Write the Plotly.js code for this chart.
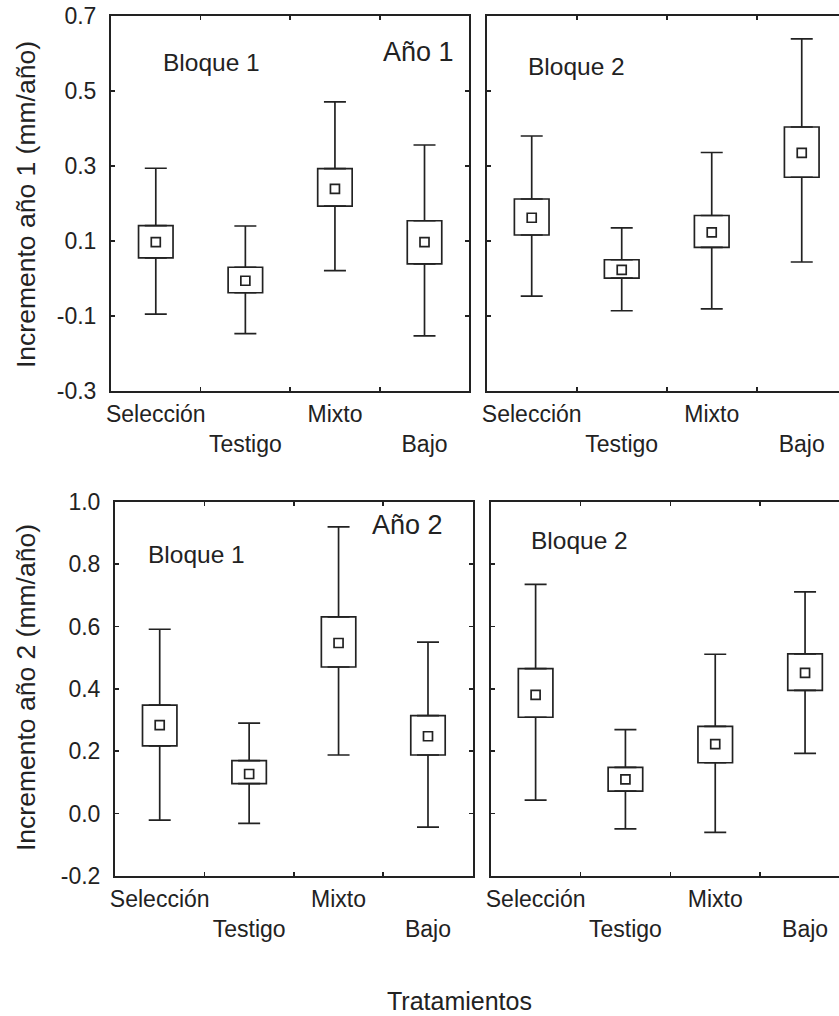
<!DOCTYPE html>
<html>
<head>
<meta charset="utf-8">
<script src="https://cdn.plot.ly/plotly-3.0.1.min.js"></script>
<style>html,body{margin:0;padding:0;background:#fff;}#chart{width:839px;height:1016px;}</style>
</head>
<body>
<div id="chart"></div>
<script>
// ---- data ----
var categories = ["Selección", "Testigo", "Mixto", "Bajo"];
var tickLabels = ["Selección", "<br>Testigo", "Mixto", "<br>Bajo"];

var yTickVals1 = [-0.3, -0.1, 0.1, 0.3, 0.5, 0.7];
var yTickText1 = ["-0.3", "-0.1", "0.1", "0.3", "0.5", "0.7"];
var yTickVals2 = [-0.2, 0.0, 0.2, 0.4, 0.6, 0.8, 1.0];
var yTickText2 = ["-0.2", "0.0", "0.2", "0.4", "0.6", "0.8", "1.0"];

// Año 1, Bloque 1
var a1b1Mean  = [0.097, -0.006, 0.239, 0.097];
var a1b1BoxHi = [0.141, 0.030, 0.293, 0.154];
var a1b1BoxLo = [0.055, -0.038, 0.193, 0.039];
var a1b1Hi    = [0.294, 0.140, 0.471, 0.356];
var a1b1Lo    = [-0.095, -0.147, 0.021, -0.153];

// Año 1, Bloque 2
var a1b2Mean  = [0.162, 0.023, 0.123, 0.335];
var a1b2BoxHi = [0.212, 0.050, 0.168, 0.404];
var a1b2BoxLo = [0.116, 0.001, 0.083, 0.270];
var a1b2Hi    = [0.380, 0.135, 0.336, 0.639];
var a1b2Lo    = [-0.047, -0.086, -0.081, 0.044];

// Año 2, Bloque 1
var a2b1Mean  = [0.284, 0.127, 0.547, 0.248];
var a2b1BoxHi = [0.348, 0.170, 0.631, 0.314];
var a2b1BoxLo = [0.217, 0.096, 0.470, 0.188];
var a2b1Hi    = [0.591, 0.290, 0.919, 0.550];
var a2b1Lo    = [-0.021, -0.031, 0.188, -0.043];

// Año 2, Bloque 2
var a2b2Mean  = [0.381, 0.110, 0.223, 0.451];
var a2b2BoxHi = [0.465, 0.148, 0.280, 0.512];
var a2b2BoxLo = [0.309, 0.072, 0.163, 0.395];
var a2b2Hi    = [0.735, 0.269, 0.511, 0.711];
var a2b2Lo    = [0.043, -0.049, -0.060, 0.193];

// ---- styling ----
var INK = "#222222";
var FONT = "Liberation Sans, Arial, Helvetica, sans-serif";
var W = 839, H = 1016;

function panelTraces(mean, boxHi, boxLo, hi, lo, xa, ya) {
  var boxH = boxHi.map(function (v, i) { return v - boxLo[i]; });
  var upErr = hi.map(function (v, i) { return v - boxHi[i]; });
  var loErr = boxLo.map(function (v, i) { return v - lo[i]; });
  var zeros = categories.map(function () { return 0; });
  return [
    { type: "bar", x: categories, y: boxH, base: boxLo, width: 0.385,
      marker: { color: "#ffffff", line: { color: INK, width: 1.7 } },
      xaxis: xa, yaxis: ya, hoverinfo: "skip", showlegend: false },
    { type: "scatter", mode: "markers", x: categories.concat(categories), y: boxHi.concat(boxLo),
      marker: { size: 1, color: "rgba(0,0,0,0)" },
      error_y: { type: "data", symmetric: false, array: upErr.concat(zeros), arrayminus: zeros.concat(loErr),
                 color: INK, thickness: 1.7, width: 11 },
      xaxis: xa, yaxis: ya, hoverinfo: "skip", showlegend: false },
    { type: "scatter", mode: "markers", x: categories, y: mean,
      marker: { symbol: "square-open", size: 9, color: INK, line: { width: 1.7, color: INK } },
      xaxis: xa, yaxis: ya, showlegend: false }
  ];
}

var data = []
  .concat(panelTraces(a1b1Mean, a1b1BoxHi, a1b1BoxLo, a1b1Hi, a1b1Lo, "x", "y"))
  .concat(panelTraces(a1b2Mean, a1b2BoxHi, a1b2BoxLo, a1b2Hi, a1b2Lo, "x2", "y2"))
  .concat(panelTraces(a2b1Mean, a2b1BoxHi, a2b1BoxLo, a2b1Hi, a2b1Lo, "x3", "y3"))
  .concat(panelTraces(a2b2Mean, a2b2BoxHi, a2b2BoxLo, a2b2Hi, a2b2Lo, "x4", "y4"));

function px(x) { return x / W; }
function py(y) { return 1 - y / H; }

function xAxis(x0, x1, anchor, rng) {
  return {
    domain: [px(x0), px(x1)], anchor: anchor, type: "category",
    range: rng, tickson: "boundaries", ticks: "inside", ticklen: 4, tickwidth: 1.6, tickcolor: INK,
    tickvals: categories, ticktext: tickLabels, tickangle: 0, ticklabelstandoff: 1,
    showline: true, linecolor: INK, linewidth: 2, mirror: "ticks",
    showgrid: false, zeroline: false, fixedrange: true,
    tickfont: { family: FONT, size: 23, color: INK }
  };
}
function yAxis(y0, y1, anchor, rng, tv, tt, showLabels, mirror) {
  return {
    domain: [py(y1), py(y0)], anchor: anchor, range: rng,
    tickmode: "array", tickvals: tv, ticktext: tt,
    ticks: "inside", ticklen: 4, tickwidth: 1.6, tickcolor: INK,
    showticklabels: showLabels, ticklabelstandoff: 8,
    showline: true, linecolor: INK, linewidth: 2, mirror: mirror,
    showgrid: false, zeroline: false, fixedrange: true,
    tickfont: { family: FONT, size: 23, color: INK }
  };
}

function ann(text, x, y, size, angle) {
  return { text: text, xref: "paper", yref: "paper", x: px(x), y: py(y),
           xanchor: "center", yanchor: "middle", showarrow: false, textangle: angle || 0,
           font: { family: FONT, size: size, color: INK } };
}

var layout = {
  width: W, height: H,
  margin: { l: 0, r: 0, t: 0, b: 0 },
  paper_bgcolor: "#ffffff", plot_bgcolor: "#ffffff",
  showlegend: false, barmode: "overlay",
  xaxis:  xAxis(111, 469.3, "y",  [-0.5, 3.5]),
  xaxis2: xAxis(486.7, 839, "y2", [-0.5, 3.414]),
  xaxis3: xAxis(115, 472.7, "y3", [-0.5, 3.5]),
  xaxis4: xAxis(490.7, 839, "y4", [-0.5, 3.378]),
  yaxis:  yAxis(16, 391, "x",  [-0.3, 0.7], yTickVals1, yTickText1, true, "ticks"),
  yaxis2: yAxis(16, 391, "x2", [-0.3, 0.7], yTickVals1, yTickText1, false, false),
  yaxis3: yAxis(501.7, 876, "x3", [-0.2, 1.0], yTickVals2, yTickText2, true, "ticks"),
  yaxis4: yAxis(501.7, 876, "x4", [-0.2, 1.0], yTickVals2, yTickText2, false, false),
  annotations: [
    ann("Bloque 1", 211.5, 62.7, 24.5),
    ann("Año 1", 418.5, 52, 27),
    ann("Bloque 2", 576, 66.7, 24.5),
    ann("Año 2", 407.5, 525, 27),
    ann("Bloque 1", 196, 554, 24.5),
    ann("Bloque 2", 579.5, 540, 24.5),
    ann("Incremento año 1 (mm/año)", 26, 205, 26.5, -90),
    ann("Incremento año 2 (mm/año)", 26, 688, 26.5, -90),
    ann("Tratamientos", 459, 1000.7, 25)
  ]
};

Plotly.newPlot("chart", data, layout, { displayModeBar: false, staticPlot: true });
</script>
</body>
</html>
